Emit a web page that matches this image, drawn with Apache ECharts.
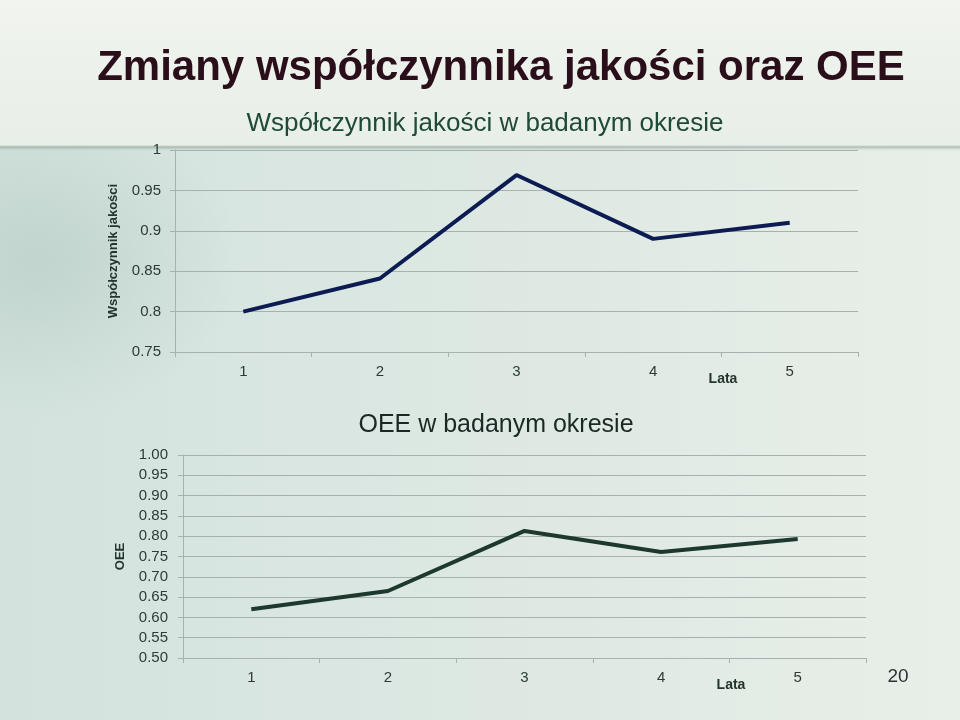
<!DOCTYPE html>
<html><head><meta charset="utf-8">
<script src="https://cdn.jsdelivr.net/npm/echarts@6/dist/echarts.min.js"></script>
<style>
html,body{margin:0;padding:0;}
#c{width:960px;height:720px;
background:
linear-gradient(to bottom,#f1f4ef 0px,#e8eee8 145px,rgba(130,150,140,0.55) 147px,rgba(160,180,170,0.25) 149px,rgba(0,0,0,0) 151px),
radial-gradient(ellipse 200px 160px at 40px 260px,rgba(175,198,190,0.5),rgba(175,198,190,0) 100%),
linear-gradient(to right,#d3e2dd 0%,#d9e6e1 30%,#dfe9e3 60%,#e8efe8 100%);}
</style></head>
<body><div id="c"></div>
<script>
const years = ['1','2','3','4','5'];
const qualityValues = [0.80, 0.841, 0.969, 0.89, 0.91];
const oeeValues = [0.62, 0.665, 0.813, 0.761, 0.793];
const mainTitle = 'Zmiany współczynnika jakości oraz OEE';
const qualityTitle = 'Współczynnik jakości w badanym okresie';
const oeeTitle = 'OEE w badanym okresie';
const qualityAxisName = 'Współczynnik jakości';
const oeeAxisName = 'OEE';
const xAxisName = 'Lata';
const pageNumber = '20';

const chart = echarts.init(document.getElementById('c'), null, {renderer:'canvas'});
const font = 'Liberation Sans, Arial, sans-serif';
const gridCol = '#a7b1ad';
const labelCol = '#2f3a36';

function xAx(gridIndex){
  return {
    type:'category', gridIndex, data: years, boundaryGap:true,
    name: xAxisName, nameLocation:'end', nameGap:-135,
    nameTextStyle:{fontFamily:font,fontSize:14,fontWeight:'bold',color:'#243530',align:'center',verticalAlign:'top',padding:[20,0,0,0]},
    axisLine:{show:true,lineStyle:{color:gridCol,width:1}},
    axisTick:{show:true,alignWithLabel:false,length:5,lineStyle:{color:gridCol}},
    axisLabel:{fontFamily:font,fontSize:15,color:labelCol,margin:12},
    splitLine:{show:false}
  };
}
function yAx(gridIndex, min, name, fmt, margin, gap){
  return {
    type:'value', gridIndex, min, max:1, interval:0.05,
    name, nameLocation:'middle', nameGap:gap, nameRotate:90,
    nameTextStyle:{fontFamily:font,fontSize:13,fontWeight:'bold',color:'#243530'},
    axisLine:{show:true,lineStyle:{color:gridCol,width:1}},
    axisTick:{show:true,length:5,lineStyle:{color:gridCol}},
    axisLabel:{fontFamily:font,fontSize:15,color:labelCol,margin, formatter: fmt},
    splitLine:{show:true,lineStyle:{color:gridCol,width:1}}
  };
}

chart.setOption({
  backgroundColor:'transparent',
  animation:false,
  title:[
    {text:mainTitle,left:496,top:42,textAlign:'center',textStyle:{fontFamily:font,fontSize:42,fontWeight:'bold',color:'#2a0e1a'}},
    {text:qualityTitle,left:480,top:106,textAlign:'center',textStyle:{fontFamily:font,fontSize:26,fontWeight:'normal',color:'#1e4a36'}},
    {text:oeeTitle,left:491,top:408,textAlign:'center',textStyle:{fontFamily:font,fontSize:25,fontWeight:'normal',color:'#1c2824'}},
    {text:pageNumber,left:893,top:662,textAlign:'center',textStyle:{fontFamily:font,fontSize:19,fontWeight:'normal',color:'#2a3531'}}
  ],
  grid:[
    {left:175,right:102,top:150,bottom:368,containLabel:false},
    {left:183,right:94,top:455,bottom:62,containLabel:false}
  ],
  xAxis:[xAx(0), xAx(1)],
  yAxis:[
    yAx(0,0.75,qualityAxisName,null,14,55),
    yAx(1,0.5,oeeAxisName,function(v){return v.toFixed(2);},15,56)
  ],
  series:[
    {type:'line',xAxisIndex:0,yAxisIndex:0,data:qualityValues,showSymbol:false,symbol:'none',
     lineStyle:{color:'#0c1c52',width:4},itemStyle:{color:'#0c1c52'}},
    {type:'line',xAxisIndex:1,yAxisIndex:1,data:oeeValues,showSymbol:false,symbol:'none',
     lineStyle:{color:'#1d392e',width:4},itemStyle:{color:'#1d392e'}}
  ]
});
</script>
</body></html>
